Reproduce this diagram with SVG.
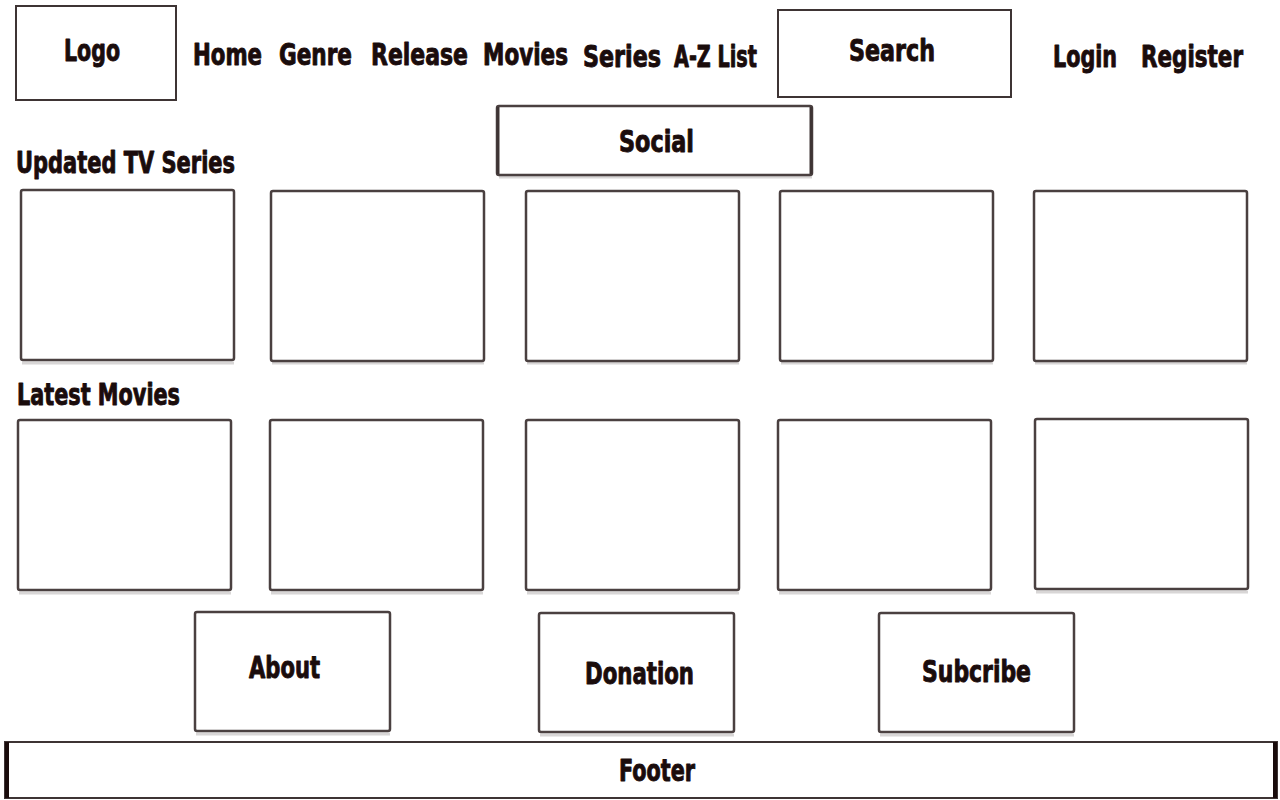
<svg xmlns="http://www.w3.org/2000/svg" width="1280" height="800" viewBox="0 0 1280 800">
<style>
.box{fill:#ffffff;stroke:#3e3434;stroke-width:2}
.card{fill:#ffffff;stroke:#4a4040;stroke-width:2.5}
.sh{fill:none;stroke:#d8d6d6;stroke-width:3}
.t{font-family:"Liberation Sans Narrow","DejaVu Sans Condensed","Liberation Sans",sans-serif;font-weight:bold;font-size:30px;fill:#1a0c0c;stroke:#1a0c0c;stroke-width:0.9;stroke-linejoin:round}
</style>
<rect width="1280" height="800" fill="#ffffff"/>
<g id="logo"><rect class="box" x="16" y="6" width="160" height="94"/><text class="t" x="64" y="61" textLength="56" lengthAdjust="spacingAndGlyphs">Logo</text></g>
<g id="nav">
<text class="t" x="193" y="65" textLength="69" lengthAdjust="spacingAndGlyphs">Home</text>
<text class="t" x="279" y="65" textLength="73" lengthAdjust="spacingAndGlyphs">Genre</text>
<text class="t" x="371" y="65" textLength="97" lengthAdjust="spacingAndGlyphs">Release</text>
<text class="t" x="483" y="65" textLength="85" lengthAdjust="spacingAndGlyphs">Movies</text>
<text class="t" x="583" y="67" textLength="78" lengthAdjust="spacingAndGlyphs">Series</text>
<text class="t" x="674" y="67" textLength="83" lengthAdjust="spacingAndGlyphs">A-Z List</text>
</g>
<g id="search"><rect class="box" x="778" y="10" width="233" height="87"/><text class="t" x="849" y="61" textLength="86" lengthAdjust="spacingAndGlyphs">Search</text></g>
<g id="login"><text class="t" x="1053" y="67" textLength="64" lengthAdjust="spacingAndGlyphs">Login</text></g>
<g id="register"><text class="t" x="1141" y="67" textLength="102" lengthAdjust="spacingAndGlyphs">Register</text></g>
<g id="social"><line class="sh" x1="499" y1="177" x2="812" y2="177"/><rect class="card" x="497" y="106" width="315" height="69" rx="2"/><line x1="498" y1="107" x2="498" y2="174" stroke="#3e3434" stroke-width="3"/><line x1="811" y1="107" x2="811" y2="174" stroke="#3e3434" stroke-width="3"/><text class="t" x="619" y="152" textLength="75" lengthAdjust="spacingAndGlyphs">Social</text></g>
<g id="updated-tv-series">
<text class="t" x="16" y="173" textLength="219" lengthAdjust="spacingAndGlyphs">Updated TV Series</text>
<line class="sh" x1="22" y1="363" x2="234" y2="363"/><rect class="card" x="21" y="190" width="213" height="170" rx="2"/>
<line class="sh" x1="272" y1="363" x2="484" y2="363"/><rect class="card" x="271" y="191" width="213" height="170" rx="2"/>
<line class="sh" x1="527" y1="363" x2="739" y2="363"/><rect class="card" x="526" y="191" width="213" height="170" rx="2"/>
<line class="sh" x1="781" y1="363" x2="993" y2="363"/><rect class="card" x="780" y="191" width="213" height="170" rx="2"/>
<line class="sh" x1="1035" y1="363" x2="1247" y2="363"/><rect class="card" x="1034" y="191" width="213" height="170" rx="2"/>
</g>
<g id="latest-movies">
<text class="t" x="17" y="405" textLength="163" lengthAdjust="spacingAndGlyphs">Latest Movies</text>
<line class="sh" x1="19" y1="593" x2="231" y2="593"/><rect class="card" x="18" y="420" width="213" height="170" rx="2"/>
<line class="sh" x1="271" y1="593" x2="483" y2="593"/><rect class="card" x="270" y="420" width="213" height="170" rx="2"/>
<line class="sh" x1="527" y1="593" x2="739" y2="593"/><rect class="card" x="526" y="420" width="213" height="170" rx="2"/>
<line class="sh" x1="779" y1="593" x2="991" y2="593"/><rect class="card" x="778" y="420" width="213" height="170" rx="2"/>
<line class="sh" x1="1036" y1="592" x2="1248" y2="592"/><rect class="card" x="1035" y="419" width="213" height="170" rx="2"/>
</g>
<g id="about"><line class="sh" x1="196" y1="734" x2="390" y2="734"/><rect class="card" x="195" y="612" width="195" height="119" rx="2"/><text class="t" x="249" y="678" textLength="71" lengthAdjust="spacingAndGlyphs">About</text></g>
<g id="donation"><line class="sh" x1="540" y1="735" x2="734" y2="735"/><rect class="card" x="539" y="613" width="195" height="119" rx="2"/><text class="t" x="585" y="684" textLength="109" lengthAdjust="spacingAndGlyphs">Donation</text></g>
<g id="subcribe"><line class="sh" x1="880" y1="735" x2="1074" y2="735"/><rect class="card" x="879" y="613" width="195" height="119" rx="2"/><text class="t" x="922" y="682" textLength="109" lengthAdjust="spacingAndGlyphs">Subcribe</text></g>
<g id="footer"><rect class="box" x="5" y="742" width="1272" height="56"/><line x1="7" y1="742" x2="7" y2="798" stroke="#1a0c0c" stroke-width="4"/><line x1="1275" y1="742" x2="1275" y2="798" stroke="#1a0c0c" stroke-width="4"/><text class="t" x="619" y="781" textLength="76" lengthAdjust="spacingAndGlyphs">Footer</text></g>
<g id="connectors"></g>
</svg>
